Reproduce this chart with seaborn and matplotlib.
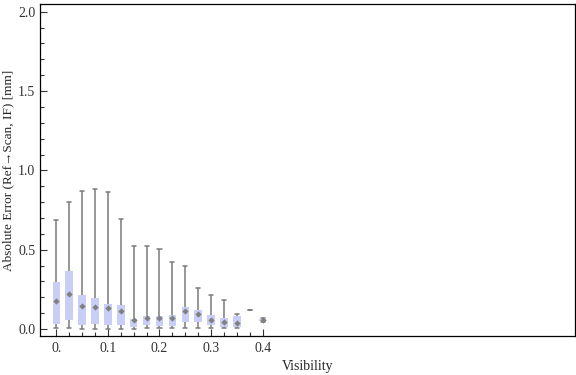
import numpy as np
import pandas as pd
import matplotlib
matplotlib.use("Agg")
import matplotlib.pyplot as plt
import seaborn as sns

# visibility bins and five-number summaries
visibility = ["0.000", "0.025", "0.050", "0.075", "0.100", "0.125", "0.150", "0.175",
              "0.200", "0.225", "0.250", "0.275", "0.300", "0.325", "0.350", "0.375", "0.400"]
err_min = [0.004, 0.004, 0.002, 0.002, 0.002, 0.002, 0.002, 0.004, 0.004,
           0.004, 0.004, 0.004, 0.004, 0.006, 0.006, 0.118, 0.046]
err_q1 = [0.033, 0.057, 0.027, 0.033, 0.027, 0.027, 0.015, 0.027, 0.021,
          0.019, 0.046, 0.046, 0.025, 0.015, 0.015, 0.118, 0.050]
err_med = [0.179, 0.221, 0.147, 0.137, 0.135, 0.113, 0.060, 0.071, 0.067,
           0.067, 0.111, 0.093, 0.057, 0.046, 0.040, 0.118, 0.056]
err_q3 = [0.296, 0.366, 0.214, 0.197, 0.158, 0.151, 0.063, 0.082, 0.082,
          0.088, 0.139, 0.120, 0.088, 0.071, 0.080, 0.118, 0.062]
err_max = [0.685, 0.799, 0.868, 0.881, 0.862, 0.692, 0.521, 0.521, 0.502,
           0.420, 0.395, 0.257, 0.214, 0.183, 0.093, 0.118, 0.067]

xtick_pos = [0, 4, 8, 12, 16]
xtick_labels = ["0.", "0.1", "0.2", "0.3", "0.4"]

rows = []
for v, a, b, c, d, e in zip(visibility, err_min, err_q1, err_med, err_q3, err_max):
    for val in (a, b, c, d, e):
        rows.append({"visibility": v, "error": val})
df = pd.DataFrame(rows)
# the single-sample bin shows only a dash, no median marker
med_df = pd.DataFrame({"visibility": visibility, "error": err_med})
med_df = med_df[med_df["visibility"] != "0.375"]

sns.set_style("white")
plt.rcParams["font.family"] = ["Liberation Serif", "DejaVu Serif"]

fig = plt.figure(figsize=(5.76, 3.75), dpi=100)
ax = fig.add_axes([40 / 576, 39 / 375, 535 / 576, 332 / 375])

box_color = "#c8cef5"
line_color = "#7a7a7a"
sns.boxplot(data=df, x="visibility", y="error", order=visibility, whis=np.inf,
            width=0.58, color=box_color, linewidth=0, ax=ax,
            boxprops=dict(facecolor=box_color, edgecolor=box_color, linewidth=0),
            whiskerprops=dict(color=line_color, linewidth=1.1),
            capprops=dict(color=line_color, linewidth=1.1),
            medianprops=dict(visible=False))
# narrow caps like the reference
for ln in ax.lines:
    xd = ln.get_xdata()
    if len(xd) == 2 and xd[0] != xd[1]:
        mid = (xd[0] + xd[1]) / 2
        ln.set_xdata([mid - 0.16, mid + 0.16])

sns.stripplot(data=med_df, x="visibility", y="error", order=visibility, jitter=False,
              marker="D", size=3.2, color="#808080", linewidth=0, ax=ax)

ax.set_xlim(-1.26, 40.2)
ax.set_ylim(-0.044, 2.049)
ax.set_xticks(xtick_pos)
ax.set_xticklabels(xtick_labels)
ax.set_xticks(range(len(visibility)), minor=True)
ax.set_yticks([0.0, 0.5, 1.0, 1.5, 2.0])
ax.set_yticklabels(["0.0", "0.5", "1.0", "1.5", "2.0"])
ax.set_yticks(np.arange(0, 2.01, 0.1), minor=True)
ax.tick_params(axis="both", which="both", direction="in", colors="#333333",
               labelsize=10, bottom=True, left=True, top=False, right=False)
ax.tick_params(axis="both", which="major", length=5, width=0.8)
ax.tick_params(axis="both", which="minor", length=3, width=0.8)
ax.tick_params(axis="x", pad=4)

for s in ax.spines.values():
    s.set_visible(True)
    s.set_color("black")
    s.set_linewidth(0.9)

ax.set_xlabel("Visibility", fontsize=10)
ax.set_ylabel("Absolute Error (Ref\u2192Scan, IF) [mm]", fontsize=9.5)
ax.xaxis.set_label_coords(0.5, -0.072)
ax.yaxis.set_label_coords(-0.049, 0.5)

fig.savefig("out.png", dpi=100)
